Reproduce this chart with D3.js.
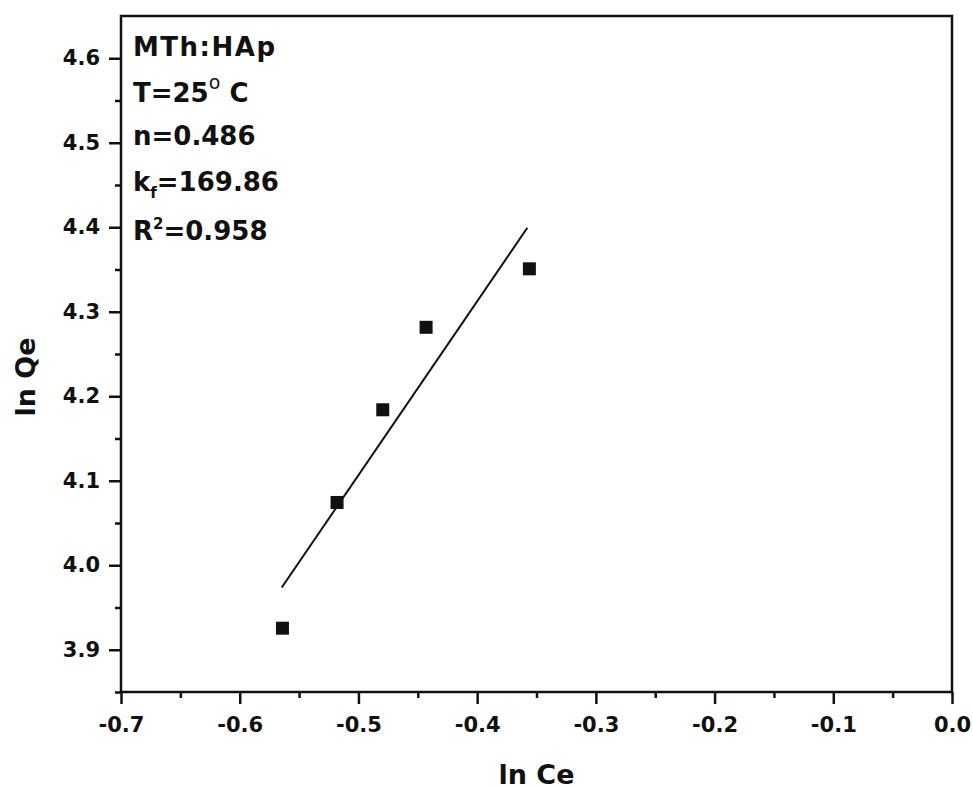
<!DOCTYPE html>
<html>
<head>
<meta charset="utf-8">
<script src="https://cdn.jsdelivr.net/npm/d3@7"></script>
<style>
  html, body { margin: 0; padding: 0; background: #fff; }
  svg { display: block; }
  text { font-family: "DejaVu Sans", "Liberation Sans", Arial, sans-serif; font-weight: bold; fill: #111; }
</style>
</head>
<body>
<svg id="chart" width="973" height="789"></svg>
<script>
// ---- data ----
const lnCe = [-0.564, -0.518, -0.4795, -0.443, -0.356];
const lnQe = [3.9255, 4.0743, 4.184, 4.2816, 4.3508];
// linear fit (Freundlich) end points
const fitCe = [-0.5646, -0.3577];
const fitQe = [3.9736, 4.3994];
const xTicks = [-0.7, -0.6, -0.5, -0.4, -0.3, -0.2, -0.1, 0.0];
const yTicks = [3.9, 4.0, 4.1, 4.2, 4.3, 4.4, 4.5, 4.6];
const xMinor = [-0.65, -0.55, -0.45, -0.35, -0.25, -0.15, -0.05];
const yMinor = [3.85, 3.95, 4.05, 4.15, 4.25, 4.35, 4.45, 4.55];
const xLabel = "ln Ce";
const yLabel = "ln Qe";

const svg = d3.select("#chart");
const L = 121, R = 952, T = 16, B = 692;

const x = d3.scaleLinear().domain([-0.7, 0.0]).range([L, R]);
const y = d3.scaleLinear().domain([3.85, 4.65]).range([B, T]);

// frame
svg.append("rect")
  .attr("x", L).attr("y", T).attr("width", R - L).attr("height", B - T)
  .attr("fill", "none").attr("stroke", "#111").attr("stroke-width", 2.5);

// x axis
const xAxis = svg.append("g").attr("transform", `translate(0,${B})`)
  .call(d3.axisBottom(x).tickValues(xTicks).tickSize(12).tickPadding(13)
        .tickFormat(d3.format(".1f")));
xAxis.select(".domain").remove();
xAxis.selectAll(".tick line").attr("stroke", "#111").attr("stroke-width", 2.5);
xAxis.selectAll(".tick text").style("font-size", "21px").attr("fill", "#111")
  .text(d => d3.format(".1f")(d).replace("−", "-"));
const xAxisMinor = svg.append("g").attr("transform", `translate(0,${B})`)
  .call(d3.axisBottom(x).tickValues(xMinor).tickSize(6).tickFormat(""));
xAxisMinor.select(".domain").remove();
xAxisMinor.selectAll(".tick line").attr("stroke", "#111").attr("stroke-width", 2.5);

// y axis
const yAxis = svg.append("g").attr("transform", `translate(${L},0)`)
  .call(d3.axisLeft(y).tickValues(yTicks).tickSize(12).tickPadding(9)
        .tickFormat(d3.format(".1f")));
yAxis.select(".domain").remove();
yAxis.selectAll(".tick line").attr("stroke", "#111").attr("stroke-width", 2.5);
yAxis.selectAll(".tick text").style("font-size", "21px").attr("fill", "#111");
const yAxisMinor = svg.append("g").attr("transform", `translate(${L},0)`)
  .call(d3.axisLeft(y).tickValues(yMinor).tickSize(6).tickFormat(""));
yAxisMinor.select(".domain").remove();
yAxisMinor.selectAll(".tick line").attr("stroke", "#111").attr("stroke-width", 2.5);

// axis titles
svg.append("text").attr("x", (L + R) / 2 + 0).attr("y", 784)
  .attr("text-anchor", "middle").style("font-size", "27px").text(xLabel);
svg.append("text").attr("transform", `translate(35,${377}) rotate(-90)`)
  .attr("text-anchor", "middle").style("font-size", "27px").text(yLabel);

// fit line
const line = d3.line().x(d => x(d[0])).y(d => y(d[1]));
svg.append("path")
  .datum(d3.zip(fitCe, fitQe))
  .attr("d", line).attr("fill", "none").attr("stroke", "#111").attr("stroke-width", 2);

// points
const s = 13;
svg.append("g").selectAll("rect")
  .data(d3.zip(lnCe, lnQe))
  .join("rect")
  .attr("x", d => x(d[0]) - s / 2).attr("y", d => y(d[1]) - s / 2)
  .attr("width", s).attr("height", s).attr("fill", "#111");

// annotation
const ann = svg.append("g").attr("transform", "translate(133,0)");
const fs = 26;
ann.append("text").attr("y", 56).style("font-size", fs + "px")
  .style("letter-spacing", "1.5px").text("MTh:HAp");
const t2 = ann.append("text").attr("y", 102).style("font-size", fs + "px");
t2.append("tspan").text("T=25");
t2.append("tspan").attr("dy", -13).style("font-size", "19px").style("font-weight", "normal").text("o");
t2.append("tspan").attr("dy", 13).text("\u00a0C");
ann.append("text").attr("y", 145).style("font-size", fs + "px").text("n=0.486");
const t4 = ann.append("text").attr("y", 191).style("font-size", fs + "px");
t4.append("tspan").text("k");
t4.append("tspan").attr("dy", 7).style("font-size", "15px").text("f");
t4.append("tspan").attr("dy", -7).text("=169.86");
const t5 = ann.append("text").attr("y", 240).style("font-size", fs + "px");
t5.append("tspan").text("R");
t5.append("tspan").attr("dy", -11).style("font-size", "15px").text("2");
t5.append("tspan").attr("dy", 11).text("=0.958");
</script>
</body>
</html>
